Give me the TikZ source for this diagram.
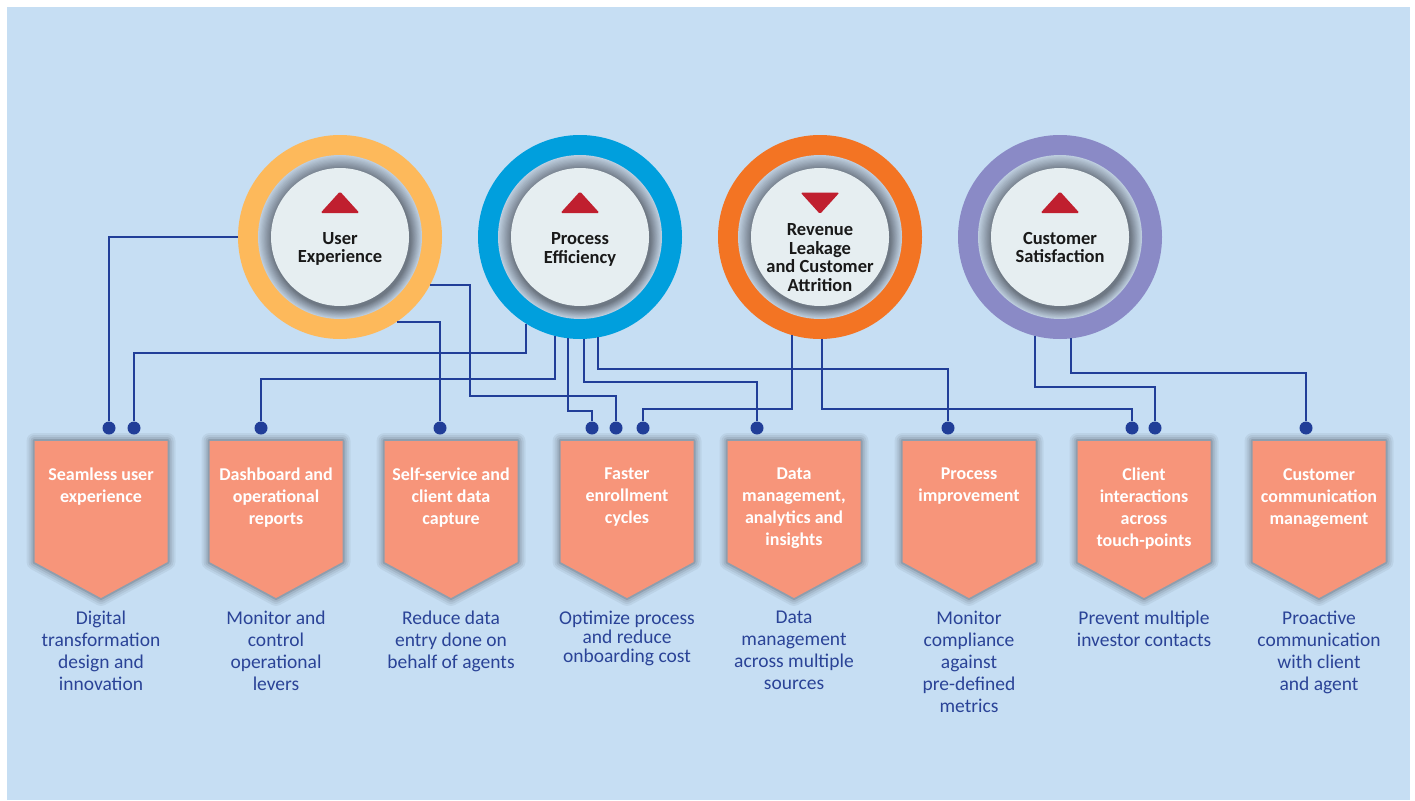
\documentclass[tikz,border=0pt]{standalone}
\usepackage{fontspec}
\setmainfont{Carlito}
\definecolor{bgblue}{HTML}{C6DEF3}
\definecolor{linkblue}{HTML}{213E98}
\definecolor{salmon}{HTML}{F7957A}
\definecolor{descblue}{HTML}{2A4397}
\definecolor{ueyellow}{HTML}{FDB95B}
\definecolor{peblue}{HTML}{009FDD}
\definecolor{rlorange}{HTML}{F37423}
\definecolor{cspurple}{HTML}{8A8AC6}
\definecolor{discgrey}{HTML}{E6EEF1}
\definecolor{shadelight}{HTML}{BDCDDE}
\definecolor{shadedark}{HTML}{6E7884}
\definecolor{arrowred}{HTML}{C01F2F}

\tikzset{
  ring/.style={circle, minimum size=204pt, inner sep=0pt, outer sep=0pt},
  pin/.style={circle, fill=linkblue, minimum size=13pt, inner sep=0pt},
  link/.style={draw=linkblue, line width=2pt},
  goal/.style={align=center, text=black!90, font=\fontsize{18.5}{18.5}\selectfont\bfseries},
  tabtitle/.style={anchor=north, align=center, text=white, inner sep=0pt, font=\fontsize{18}{22}\selectfont\bfseries},
  tabnote/.style={anchor=north, align=center, text=descblue, inner sep=0pt},
  trend/.style={fill=arrowred, rounded corners=1.5pt},
}

\begin{document}
\begin{tikzpicture}[x=1pt,y=-1pt]
  \useasboundingbox (0,0) rectangle (1415,800);
  \fill[white] (0,0) rectangle (1415,800);
  \fill[bgblue] (7,7) rectangle (1410,800);

  % goal rings
  \foreach \nm/\cx/\col in {ue/340/ueyellow, pe/580/peblue, rl/820/rlorange, cs/1060/cspurple}{
    \node[ring, fill=\col] (\nm) at (\cx,237) {};
    \foreach \i in {0,...,12}{
      \pgfmathsetmacro\rr{82-\i}
      \pgfmathsetmacro\pc{\i*100/12}
      \fill[shadedark!\pc!shadelight] (\cx+0.1*\i,237+0.2*\i) circle (\rr pt);
    }
    \fill[discgrey] (\cx,237) circle (69pt);
  }

  \fill[trend] (320.5,213) -- (359.5,213) -- (340,191.5) -- cycle;
  \fill[trend] (560.5,213) -- (599.5,213) -- (580,191.5) -- cycle;
  \fill[trend] (800.5,192.5) -- (839.5,192.5) -- (820,214) -- cycle;
  \fill[trend] (1040.5,213) -- (1079.5,213) -- (1060,191.5) -- cycle;

  \node[goal] (ue-t) at (340,249) {User\\Experience};
  \node[goal] (pe-t) at (580,249.5) {Process\\Efficiency};
  \node[goal] (rl-t) at (820,257.5) {Revenue\\Leakage\\and Customer\\Attrition};
  \node[goal] (cs-t) at (1060,247.5) {Customer\\Satisfaction};

  % benefit tabs
  \foreach \nm/\bx/\ls/\ttl/\dsc in {
    t1/101/22/{Seamless user\\experience}/{Digital\\transformation\\design and\\innovation},
    t2/276/22/{Dashboard and\\operational\\reports}/{Monitor and\\control\\operational\\levers},
    t3/451/22/{Self-service and\\client data\\capture}/{Reduce data\\entry done on\\behalf of agents},
    t4/627/19/{Faster\\enrollment\\cycles}/{Optimize process\\and reduce\\onboarding cost},
    t5/794/22/{Data\\management,\\analytics and\\insights}/{Data\\management\\across multiple\\sources},
    t6/969/22/{Process\\improvement}/{Monitor\\compliance\\against\\pre-defined\\metrics},
    t7/1144/22/{Client\\interactions\\across\\touch-points}/{Prevent multiple\\investor contacts},
    t8/1319/22/{Customer\\communication\\management}/{Proactive\\communication\\with client\\and agent}}{
    \foreach \w/\o in {16/0.05, 12/0.06, 8/0.08, 4/0.12}
      \draw[line width=\w pt, black, opacity=\o, line join=round]
        (\bx-66.5,441) -- (\bx+66.5,441) -- (\bx+66.5,562) -- (\bx,598) -- (\bx-66.5,562) -- cycle;
    \fill[salmon] (\bx-66.5,441) -- (\bx+66.5,441) -- (\bx+66.5,562) -- (\bx,598) -- (\bx-66.5,562) -- cycle;
    \node[tabtitle] (\nm) at (\bx,468) {\ttl};
    \node[tabnote, font=\fontsize{19.5}{\ls}\selectfont] (\nm-d) at (\bx,611) {\dsc};
  }

  % pins
  \node[pin] (p1a) at (109,428) {};
  \node[pin] (p1b) at (134,428) {};
  \node[pin] (p2) at (261,428) {};
  \node[pin] (p3) at (440,428) {};
  \node[pin] (p4a) at (592,428) {};
  \node[pin] (p4b) at (616,428) {};
  \node[pin] (p4c) at (643,428) {};
  \node[pin] (p5) at (757,428) {};
  \node[pin] (p6) at (948,428) {};
  \node[pin] (p7a) at (1132,428) {};
  \node[pin] (p7b) at (1155,428) {};
  \node[pin] (p8) at (1306,428) {};
  \coordinate (k1) at (470,396);

  % links
  \draw[link] (ue.west) -| (p1a);
  \draw[link] (ue.-28) -| (k1) -| (p4b);
  \draw[link] (ue.-56) -| (p3);
  \draw[link] (pe.-122) |- (p1b |- 0,353) -- (p1b);
  \draw[link] (pe.-104) |- (p2 |- 0,379) -- (p2);
  \draw[link] (pe.-97) |- (p4a |- 0,411) -- (p4a);
  \draw[link] (pe.-88) |- (p5 |- 0,382) -- (p5);
  \draw[link] (pe.-80) |- (p6 |- 0,369) -- (p6);
  \draw[link] (rl.-106) |- (p4c |- 0,409) -- (p4c);
  \draw[link] (rl.-89) |- (p7a |- 0,409) -- (p7a);
  \draw[link] (cs.-104) |- (p7b |- 0,387) -- (p7b);
  \draw[link] (cs.-84) |- (p8 |- 0,373) -- (p8);
\end{tikzpicture}
\end{document}
